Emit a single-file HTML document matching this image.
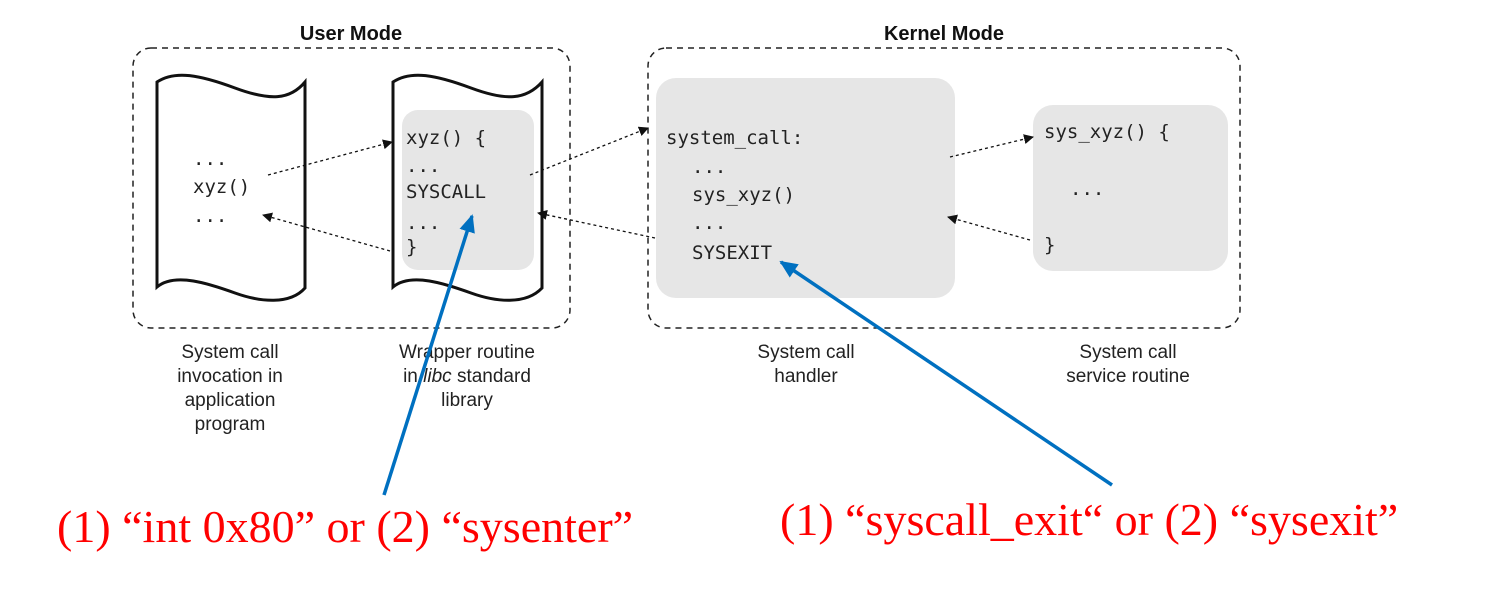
<!DOCTYPE html>
<html><head><style>
body{margin:0;background:#fff}
svg{display:block}
.m{font-family:"DejaVu Sans Mono","Liberation Mono",monospace;font-size:19px;fill:#222}
.l{font-family:"Liberation Sans",sans-serif;font-size:19px;fill:#222;text-anchor:middle}
.h{font-family:"Liberation Sans",sans-serif;font-size:20px;font-weight:bold;fill:#111;text-anchor:middle}
.r{font-family:"Liberation Serif",serif;font-size:46px;fill:#f00}
</style></head><body>
<svg width="1508" height="600" viewBox="0 0 1508 600">
<defs>
<marker id="a" markerWidth="10" markerHeight="10" refX="9" refY="5" orient="auto" markerUnits="userSpaceOnUse"><path d="M0,0 L10,5 L0,10 z" fill="#111"/></marker>
<marker id="b" markerWidth="18" markerHeight="16" refX="16" refY="8" orient="auto" markerUnits="userSpaceOnUse"><path d="M0,0 L18,8 L0,16 z" fill="#0070c0"/></marker>
</defs>
<text class="h" x="351" y="40">User Mode</text>
<text class="h" x="944" y="40">Kernel Mode</text>
<rect x="133" y="48" width="437" height="280" rx="18" fill="none" stroke="#222" stroke-width="1.5" stroke-dasharray="6,5"/>
<rect x="648" y="48" width="592" height="280" rx="18" fill="none" stroke="#222" stroke-width="1.5" stroke-dasharray="6,5"/>
<path d="M157,82 C175,70 200,75 235,88 S290,100 305,82 L305,288 C290,305 260,302 235,293 S175,272 157,287 Z" fill="#fff" stroke="#111" stroke-width="3"/>
<path d="M393,82 C411,70 436,75 471,88 S526,100 542,82 L542,288 C526,305 496,302 471,293 S411,272 393,287 Z" fill="#fff" stroke="#111" stroke-width="3"/>
<rect x="402" y="110" width="132" height="160" rx="16" fill="#e6e6e6"/>
<rect x="656" y="78" width="299" height="220" rx="20" fill="#e6e6e6"/>
<rect x="1033" y="105" width="195" height="166" rx="20" fill="#e6e6e6"/>
<text class="m" x="193" y="165">...</text>
<text class="m" x="193" y="193">xyz()</text>
<text class="m" x="193" y="222">...</text>
<text class="m" x="406" y="144">xyz() {</text>
<text class="m" x="406" y="172">...</text>
<text class="m" x="406" y="198">SYSCALL</text>
<text class="m" x="406" y="229">...</text>
<text class="m" x="406" y="253">}</text>
<text class="m" x="666" y="144">system_call:</text>
<text class="m" x="692" y="173">...</text>
<text class="m" x="692" y="201">sys_xyz()</text>
<text class="m" x="692" y="229">...</text>
<text class="m" x="692" y="259">SYSEXIT</text>
<text class="m" x="1044" y="138">sys_xyz() {</text>
<text class="m" x="1070" y="195">...</text>
<text class="m" x="1044" y="251">}</text>
<g stroke="#111" stroke-width="1.3" stroke-dasharray="3,3" fill="none" marker-end="url(#a)">
<line x1="268" y1="175" x2="392" y2="142"/>
<line x1="390" y1="251" x2="263" y2="215"/>
<line x1="530" y1="175" x2="648" y2="128"/>
<line x1="655" y1="238" x2="538" y2="213"/>
<line x1="950" y1="157" x2="1033" y2="137"/>
<line x1="1030" y1="240" x2="948" y2="217"/>
</g>
<g class="l">
<text x="230" y="358">System call</text><text x="230" y="382">invocation in</text><text x="230" y="406">application</text><text x="230" y="430">program</text>
<text x="467" y="358">Wrapper routine</text><text x="467" y="382">in <tspan font-style="italic">libc</tspan> standard</text><text x="467" y="406">library</text>
<text x="806" y="358">System call</text><text x="806" y="382">handler</text>
<text x="1128" y="358">System call</text><text x="1128" y="382">service routine</text>
</g>
<g stroke="#0070c0" stroke-width="3.5" marker-end="url(#b)">
<line x1="384" y1="495" x2="472" y2="216"/>
<line x1="1112" y1="485" x2="781" y2="262"/>
</g>
<text class="r" x="57" y="542">(1) “int 0x80” or (2) “sysenter”</text>
<text class="r" x="780" y="535">(1) “syscall_exit“ or (2) “sysexit”</text>
</svg>
</body></html>
